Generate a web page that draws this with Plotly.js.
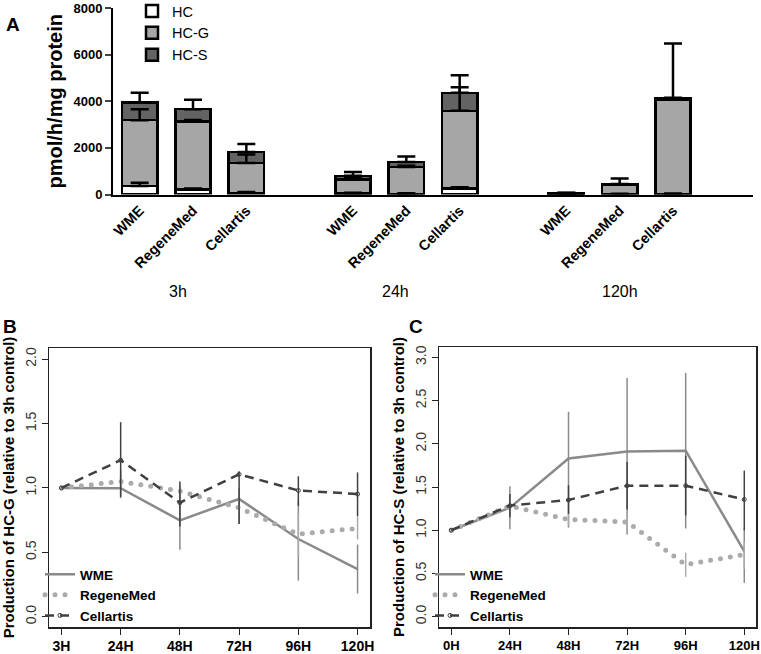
<!DOCTYPE html>
<html>
<head>
<meta charset="utf-8">
<script src="https://cdn.plot.ly/plotly-3.0.1.min.js"></script>
<style>
  body { margin: 0; background: #fff; }
  #chart { width: 761px; height: 654px; }
</style>
</head>
<body>
<div id="chart"></div>
<script>
// panel A: hydrocortisone + metabolites, pmol/h/mg protein
const timeGroups = ['3h', '24h', '120h'];
const media = ['WME', 'RegeneMed', 'Cellartis'];
// one value per bar: 3h (WME, RegeneMed, Cellartis), then 24h, then 120h
const hc = [360, 220, 75, 50, 30, 250, 20, 20, 30];
const hcG = [2830, 2910, 1275, 590, 1150, 3340, 30, 410, 4050];
const hcS = [750, 530, 470, 160, 210, 770, 10, 10, 70];
const hcErr = [140, 40, 30, 20, 20, 60, 10, 10, 10];
const hcGErr = [470, 70, 370, 120, 50, 1015, 10, 255, 10];
const hcSErr = [420, 400, 350, 170, 245, 755, 10, 10, 2330];

// panels B and C: relative to 3h control
const hoursB = ['3H', '24H', '48H', '72H', '96H', '120H'];
const hoursC = ['0H', '24H', '48H', '72H', '96H', '120H'];

const gWme = [1.0, 0.997, 0.748, 0.914, 0.603, 0.37];
const gWmeLo = [1.0, 0.92, 0.52, 0.72, 0.28, 0.18];
const gWmeHi = [1.0, 1.14, 0.98, 1.0, 0.9, 0.56];
const gReg = [1.0, 1.05, 0.975, 0.845, 0.64, 0.686];
const gRegLo = [1.0, 1.0, 0.93, 0.78, 0.47, 0.6];
const gRegHi = [1.0, 1.1, 1.02, 0.92, 0.8, 0.78];
const gCel = [1.0, 1.215, 0.885, 1.105, 0.98, 0.952];
const gCelLo = [1.0, 0.93, 0.7, 0.72, 0.86, 0.78];
const gCelHi = [1.0, 1.51, 1.05, 1.13, 1.09, 1.12];

const sWme = [1.0, 1.26, 1.83, 1.91, 1.92, 0.755];
const sWmeLo = [1.0, 1.01, 1.03, 0.95, 1.02, 0.39];
const sWmeHi = [1.0, 1.51, 2.37, 2.76, 2.82, 1.02];
const sReg = [1.0, 1.28, 1.125, 1.095, 0.6, 0.72];
const sRegLo = [1.0, 1.22, 1.05, 1.0, 0.46, 0.55];
const sRegHi = [1.0, 1.33, 1.2, 1.2, 0.74, 0.87];
const sCel = [1.0, 1.285, 1.35, 1.515, 1.515, 1.355];
const sCelLo = [1.0, 1.15, 1.19, 1.24, 1.17, 1.0];
const sCelHi = [1.0, 1.42, 1.52, 1.79, 1.86, 1.69];

const FONT = 'Liberation Sans, Arial, sans-serif';
const W = 761, H = 654;

// bar slots: each time group takes 3 slots plus one empty slot as a gap
const slots = [];
const slotText = [];
timeGroups.forEach((g, gi) => {
  media.forEach((m, mi) => {
    slots.push(gi * 4 + mi);
    slotText.push(m);
  });
});

const segments = [
  { name: 'HC', y: hc, err: hcErr, color: '#ffffff' },
  { name: 'HC-G', y: hcG, err: hcGErr, color: '#a6a6a6' },
  { name: 'HC-S', y: hcS, err: hcSErr, color: '#636363' }
];

const traces = [];
const running = slots.map(() => 0);
segments.forEach(seg => {
  traces.push({
    type: 'bar', name: seg.name, x: slots, y: seg.y, width: 0.66,
    marker: { color: seg.color, line: { color: '#000', width: 2.5 } },
    xaxis: 'x', yaxis: 'y', legend: 'legend', hoverinfo: 'skip'
  });
  seg.y.forEach((v, i) => { running[i] += v; });
  // error bars drawn on top of the stack (scatter layer sits above the bars)
  traces.push({
    type: 'scatter', mode: 'markers', x: slots, y: running.slice(),
    marker: { size: 2, opacity: 0 }, showlegend: false, hoverinfo: 'skip',
    error_y: { type: 'data', symmetric: false, array: seg.err,
      arrayminus: seg.err.map(() => 0), color: '#000', thickness: 2.5, width: 9 },
    xaxis: 'x', yaxis: 'y'
  });
});

const lineStyles = {
  WME: { color: '#8a8a8a', width: 2.5, dash: 'solid' },
  RegeneMed: { color: '#ababab', width: 5, dash: '0px,10px' },
  Cellartis: { color: '#404040', width: 2.5, dash: '9px,6px' }
};

function addLines(labels, series, xa, ya, legend) {
  const xs = labels.map((l, i) => i);
  series.forEach(s => {
    const st = lineStyles[s.name];
    traces.push({
      type: 'scatter', mode: s.name === 'Cellartis' ? 'lines+markers' : 'lines',
      name: s.name, x: xs, y: s.v,
      line: { color: st.color, width: st.width, dash: st.dash },
      marker: { symbol: 'circle-open', size: 4, color: st.color, line: { width: 1 } },
      error_y: { type: 'data', symmetric: false,
        array: s.hi.map((h, i) => h - s.v[i]),
        arrayminus: s.lo.map((l, i) => s.v[i] - l),
        color: st.color, thickness: 1.5, width: 0 },
      xaxis: xa, yaxis: ya, legend: legend, hoverinfo: 'skip'
    });
  });
}

addLines(hoursB, [
  { name: 'WME', v: gWme, lo: gWmeLo, hi: gWmeHi },
  { name: 'RegeneMed', v: gReg, lo: gRegLo, hi: gRegHi },
  { name: 'Cellartis', v: gCel, lo: gCelLo, hi: gCelHi }
], 'x2', 'y2', 'legend2');

addLines(hoursC, [
  { name: 'WME', v: sWme, lo: sWmeLo, hi: sWmeHi },
  { name: 'RegeneMed', v: sReg, lo: sRegLo, hi: sRegHi },
  { name: 'Cellartis', v: sCel, lo: sCelLo, hi: sCelHi }
], 'x3', 'y3', 'legend3');

const boxAxis = {
  showline: true, mirror: true, linecolor: '#222', linewidth: 1.5,
  ticks: 'outside', ticklen: 6, tickwidth: 1, tickcolor: '#222',
  showgrid: false, zeroline: false, ticklabeloverflow: 'allow'
};

const groupAnn = [0.72, 4.8, 9].map((x, i) => ({
  text: timeGroups[i], x: x, y: 1 - 291 / H, xref: 'x', yref: 'paper',
  showarrow: false, font: { size: 16, family: FONT }
}));

const layout = {
  width: W, height: H,
  margin: { l: 0, r: 0, t: 0, b: 0, autoexpand: false },
  paper_bgcolor: '#fff', plot_bgcolor: '#fff',
  font: { family: FONT, color: '#000' },
  barmode: 'stack',
  xaxis: {
    domain: [113 / W, 753 / W], range: [-0.5, 11.5], anchor: 'y',
    tickvals: slots, ticktext: slotText, tickangle: -45, ticks: '',
    tickfont: { size: 14.5, weight: 'bold' },
    showline: true, linecolor: '#000', linewidth: 2,
    showgrid: false, zeroline: false
  },
  yaxis: {
    domain: [1 - 194.5 / H, 1 - 8 / H], range: [0, 8000], anchor: 'x',
    tickvals: [0, 2000, 4000, 6000, 8000], ticklabeloverflow: 'allow',
    tickfont: { size: 13, weight: 'bold' },
    ticks: 'outside', ticklen: 6, tickwidth: 2,
    showline: true, linecolor: '#000', linewidth: 2,
    showgrid: false, zeroline: false,
    title: { text: 'pmol/h/mg protein', font: { size: 20, weight: 'bold' }, standoff: 5 }
  },
  xaxis2: Object.assign({}, boxAxis, {
    domain: [49 / W, 370 / W], range: [-0.21, 5.21], anchor: 'y2',
    tickvals: hoursB.map((l, i) => i), ticktext: hoursB,
    tickfont: { size: 14, weight: 'bold' }
  }),
  yaxis2: Object.assign({}, boxAxis, {
    domain: [1 - 627 / H, 1 - 348 / H], range: [-0.08, 2.086], anchor: 'x2',
    tickvals: [0, 0.5, 1, 1.5, 2], tickformat: '.1f', tickangle: -90,
    tickfont: { size: 14, color: '#333' },
    title: { text: 'Production of HC-G (relative to 3h control)',
      font: { size: 15, weight: 'bold' }, standoff: 4 }
  }),
  xaxis3: Object.assign({}, boxAxis, {
    domain: [439 / W, 756 / W], range: [-0.21, 5.2], anchor: 'y3',
    tickvals: hoursC.map((l, i) => i), ticktext: hoursC,
    tickfont: { size: 13, weight: 'bold' }
  }),
  yaxis3: Object.assign({}, boxAxis, {
    domain: [1 - 627 / H, 1 - 347 / H], range: [-0.12, 3.12], anchor: 'x3',
    tickvals: [0, 0.5, 1, 1.5, 2, 2.5, 3], tickformat: '.1f', tickangle: -90,
    tickfont: { size: 14, color: '#333' },
    title: { text: 'Production of HC-S (relative to 3h control)',
      font: { size: 15, weight: 'bold' }, standoff: 4 }
  }),
  legend: {
    x: 132 / W, y: 1 + 5 / H, xanchor: 'left', yanchor: 'top',
    font: { size: 14.5 }, bgcolor: 'rgba(0,0,0,0)', traceorder: 'normal'
  },
  legend2: {
    x: 40 / W, y: 1 - 631 / H, xanchor: 'left', yanchor: 'bottom',
    font: { size: 13.5, weight: 'bold' }, bgcolor: 'rgba(0,0,0,0)', tracegroupgap: 0
  },
  legend3: {
    x: 430 / W, y: 1 - 631 / H, xanchor: 'left', yanchor: 'bottom',
    font: { size: 13.5, weight: 'bold' }, bgcolor: 'rgba(0,0,0,0)', tracegroupgap: 0
  },
  annotations: groupAnn.concat([
    { text: 'A', x: 4 / W, y: 1 - 12 / H, xref: 'paper', yref: 'paper', xanchor: 'left',
      showarrow: false, font: { size: 19, weight: 'bold' } },
    { text: 'B', x: 1 / W, y: 1 - 326 / H, xref: 'paper', yref: 'paper', xanchor: 'left',
      showarrow: false, font: { size: 19, weight: 'bold' } },
    { text: 'C', x: 407 / W, y: 1 - 326 / H, xref: 'paper', yref: 'paper', xanchor: 'left',
      showarrow: false, font: { size: 19, weight: 'bold' } }
  ])
};

Plotly.newPlot('chart', traces, layout, { displayModeBar: false, staticPlot: true }).then(gd => {
  // round caps turn the zero-length dashes into dots
  gd.querySelectorAll('path.js-line').forEach(p => {
    if ((p.style.strokeDasharray || '').trim().startsWith('0')) {
      p.style.strokeLinecap = 'round';
    }
  });
});
</script>
</body>
</html>
